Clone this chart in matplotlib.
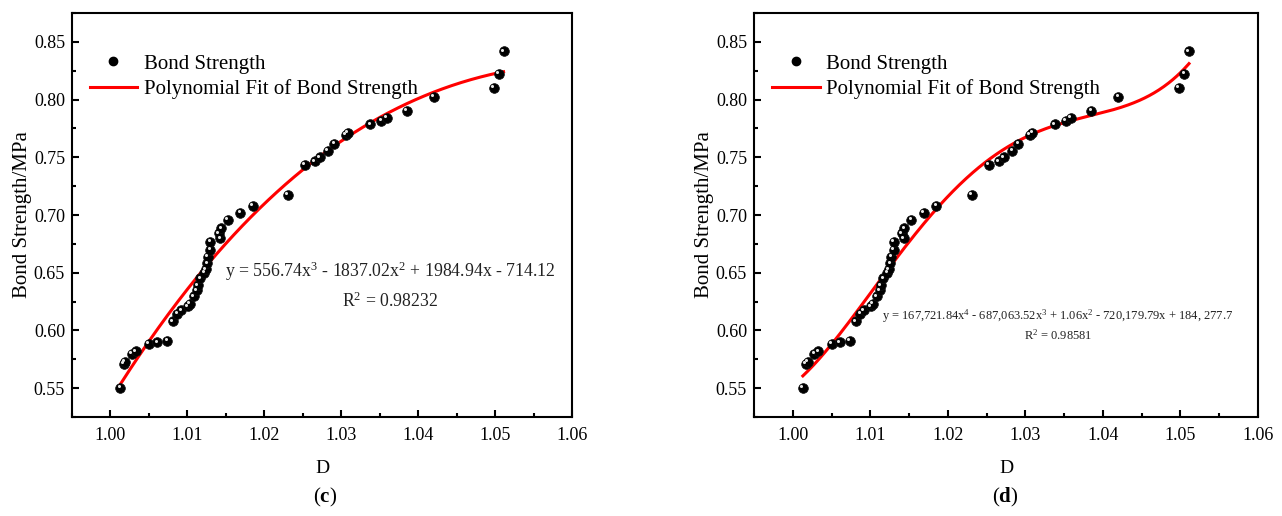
import numpy as np
import matplotlib
matplotlib.use("Agg")
import matplotlib.pyplot as plt
from matplotlib.lines import Line2D
from matplotlib.ticker import MultipleLocator, FormatStrFormatter
import matplotlib.transforms as mtransforms

plt.rcParams['font.family'] = ['Liberation Serif', 'DejaVu Serif']
plt.rcParams['mathtext.fontset'] = 'custom'
plt.rcParams['mathtext.rm'] = 'Liberation Serif'
plt.rcParams['mathtext.it'] = 'Liberation Serif:italic'
plt.rcParams['mathtext.bf'] = 'Liberation Serif:bold'

# Data
D = [1.0013, 1.0017, 1.0019, 1.0028, 1.0033, 1.0050, 1.0061, 1.0074, 1.0081, 1.0087,
     1.0092, 1.0101, 1.0103, 1.0108, 1.0112, 1.0114, 1.0117, 1.0122, 1.0124, 1.0126,
     1.0127, 1.0130, 1.0130, 1.0143, 1.0141, 1.0144, 1.0153, 1.0169, 1.0185, 1.0231,
     1.0253, 1.0266, 1.0272, 1.0283, 1.0291, 1.0306, 1.0309, 1.0338, 1.0352, 1.0359,
     1.0385, 1.0420, 1.0498, 1.0505, 1.0511]
bond_strength = [0.550, 0.571, 0.573, 0.580, 0.582, 0.5885, 0.5897, 0.591, 0.608, 0.6146,
                 0.6174, 0.621, 0.623, 0.6296, 0.6348, 0.639, 0.645, 0.650, 0.6528, 0.658,
                 0.664, 0.670, 0.6767, 0.6797, 0.684, 0.6884, 0.696, 0.702, 0.708, 0.7173,
                 0.7436, 0.7465, 0.750, 0.7555, 0.7616, 0.7696, 0.7713, 0.7786, 0.7815, 0.7843,
                 0.7904, 0.8023, 0.810, 0.8222, 0.8417]

fit_degrees = [3, 4]
equations = [r"y = 556.74x$^{3}$ - 1837.02x$^{2}$ + 1984.94x - 714.12",
             r"y = 167,721.84x$^{4}$ - 687,063.52x$^{3}$ + 1.06x$^{2}$ - 720,179.79x + 184, 277.7"]
r2_texts = [r"R$^{2}$ = 0.98232", r"R$^{2}$ = 0.98581"]
panel_labels = [r"($\mathbf{c}$)", r"($\mathbf{d}$)"]
xticks = [1.00, 1.01, 1.02, 1.03, 1.04, 1.05, 1.06]
yticks = [0.55, 0.60, 0.65, 0.70, 0.75, 0.80, 0.85]

W, H = 1282, 516
fig = plt.figure(figsize=(W / 100, H / 100), dpi=100)

ax_px = [(72, 13, 572, 417), (754, 13, 1258, 417)]
eq_pos = [((390, 271), (390, 301), 12.8), ((1058, 316), (1058, 335), 9.0)]
panel_pos = [325, 1005]

x = np.array(D)
y = np.array(bond_strength)

for i in range(2):
    l, t, r, b = ax_px[i]
    ax = fig.add_axes([l / W, 1 - b / H, (r - l) / W, (b - t) / H])
    ax.set_xlim(0.995, 1.06)
    ax.set_ylim(0.525, 0.875)

    # fit
    p = np.polynomial.Polynomial.fit(x, y, fit_degrees[i])
    xs = np.linspace(x.min(), x.max(), 400)
    ax.plot(xs, p(xs), color='#ff0000', lw=2.2, zorder=3)

    # shaded balls
    ax.plot(x, y, 'o', ms=7, mfc='black', mec='#111111', mew=0.5, ls='none', zorder=4)
    off = mtransforms.offset_copy(ax.transData, fig=fig, x=-1.2, y=1.2, units='points')
    ax.plot(x, y, 'o', ms=2.2, mfc='#e8e8e8', mec='none', ls='none', zorder=5, transform=off)

    ax.xaxis.set_major_locator(MultipleLocator(0.01))
    ax.xaxis.set_minor_locator(MultipleLocator(0.005))
    ax.yaxis.set_major_locator(MultipleLocator(0.05))
    ax.yaxis.set_minor_locator(MultipleLocator(0.025))
    ax.set_xticks(xticks)
    ax.set_yticks(yticks)
    ax.xaxis.set_major_formatter(FormatStrFormatter('%.2f'))
    ax.yaxis.set_major_formatter(FormatStrFormatter('%.2f'))
    ax.tick_params(which='both', direction='in', top=False, right=False, width=1.5)
    ax.tick_params(which='major', length=5, labelsize=13)
    ax.tick_params(which='minor', length=3)
    ax.tick_params(axis='x', pad=7)
    ax.tick_params(axis='y', pad=5)
    for s in ax.spines.values():
        s.set_linewidth(1.5)

    ax.set_xlabel('D', fontsize=14, labelpad=12)
    ax.set_ylabel('Bond Strength/MPa', fontsize=15, labelpad=1)

    handles = [Line2D([], [], marker='o', ls='none', color='black', ms=6),
               Line2D([], [], color='#ff0000', lw=2.2)]
    ax.legend(handles, ['Bond Strength', 'Polynomial Fit of Bond Strength'],
              loc='upper left', bbox_to_anchor=(0.035, 0.898), frameon=False,
              fontsize=15, handlelength=2.3, handletextpad=0.3, labelspacing=0.25,
              borderpad=0, borderaxespad=0)

    (ex, ey), (rx, ry), fs = eq_pos[i]
    fig.text(ex / W, 1 - ey / H, equations[i], ha='center', va='center', fontsize=fs, color='#222222')
    fig.text(rx / W, 1 - ry / H, r2_texts[i], ha='center', va='center', fontsize=fs, color='#222222')

    fig.text(panel_pos[i] / W, 1 - 497 / H, panel_labels[i], ha='center', va='center', fontsize=15)

fig.savefig('out.png', dpi=100)
